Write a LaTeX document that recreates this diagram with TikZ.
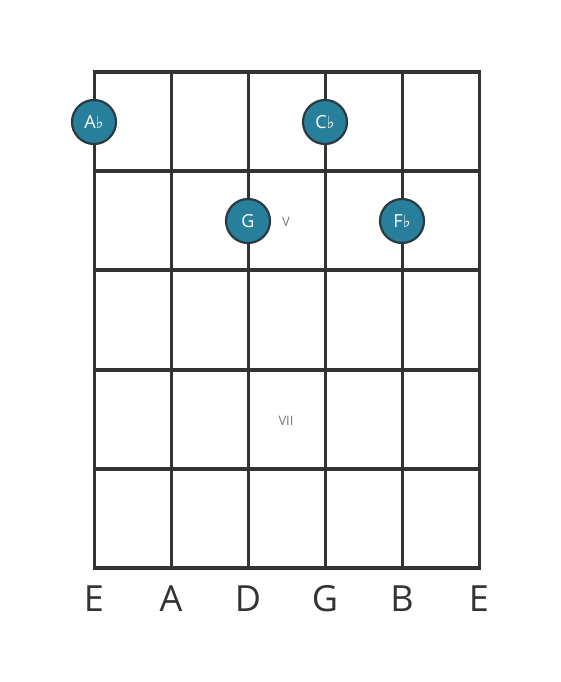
\documentclass[tikz,border=0pt]{standalone}
\usepackage{fontspec}
\setmainfont{Open Sans}
\newfontfamily\symfont{DejaVu Sans}
\definecolor{linec}{HTML}{333333}
\definecolor{dotc}{HTML}{277F9C}
\definecolor{dotb}{HTML}{2B3A40}
\definecolor{lblc}{HTML}{777777}
\newcommand{\fl}{{\symfont\fontsize{17pt}{17pt}\selectfont ♭}}
\begin{document}
\begin{tikzpicture}[x=1pt,y=-1pt,
  fret/.style={linec,line width=4pt},
  string/.style={linec,line width=3pt},
  notedot/.style={circle,fill=dotc,draw=dotb,line width=2.2pt,minimum size=44pt,inner sep=0pt,text=white,font=\fontsize{18pt}{18pt}\selectfont},
  fretnum/.style={text=lblc,font=\fontsize{13pt}{13pt}\selectfont},
  strname/.style={text=linec,font=\fontsize{36pt}{36pt}\selectfont}]
\useasboundingbox (0,0) rectangle (560,682);
\fill[white] (0,0) rectangle (560,682);
% strings
\foreach \x/\n in {94/s1,171/s2,248/s3,325/s4,402/s5,479/s6}{
  \coordinate (\n t) at (\x,72);
  \coordinate (\n b) at (\x,568);
  \draw[string] (\n t) -- (\n b);
}
% frets
\foreach \y/\n in {72/f0,171/f1,270/f2,370/f3,469/f4,568/f5}{
  \coordinate (\n l) at (92.5,\y);
  \coordinate (\n r) at (480.5,\y);
  \draw[fret] (\n l) -- (\n r);
}
% fret numbers
\node[fretnum] (v) at (286,222) {V};
\node[fretnum] (vii) at (286,421) {VII};
% notes
\node[notedot] (n1) at (94,122) {A\fl};
\node[notedot] (n2) at (325,122) {C\fl};
\node[notedot] (n3) at (248,221) {G};
\node[notedot] (n4) at (402,221) {F\fl};
% string names
\node[strname] (e1) at (94,599) {E};
\node[strname] (a) at (171,599) {A};
\node[strname] (d) at (248,599) {D};
\node[strname] (g) at (325,599) {G};
\node[strname] (b) at (402,599) {B};
\node[strname] (e2) at (479,599) {E};
\end{tikzpicture}
\end{document}
